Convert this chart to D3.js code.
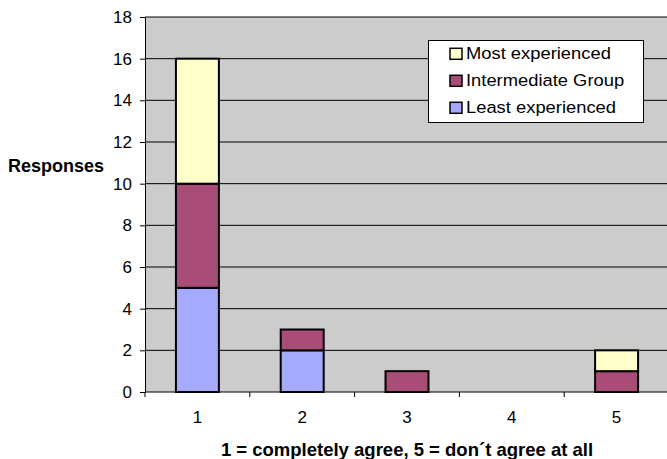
<!DOCTYPE html>
<html><head><meta charset="utf-8">
<script src="https://cdn.jsdelivr.net/npm/d3@7"></script>
<style>body{margin:0;background:#fff}svg{display:block;font-family:Arial,"Liberation Sans",sans-serif}</style>
</head><body><svg id="c" width="667" height="459"></svg>
<script>
const categories = ["1","2","3","4","5"];
const seriesNames = ["Least experienced","Intermediate Group","Most experienced"];
const leastExperienced = [5,2,0,0,0];
const intermediateGroup = [5,1,1,0,1];
const mostExperienced = [6,0,0,0,1];
const yTicks = [0,2,4,6,8,10,12,14,16,18];
const colors = ["#A6AAFF","#AA4C78","#FFFFCC"];

const svg = d3.select("#c");
const L = 145, R = 669, T = 17, B = 392;
const x = d3.scaleBand().domain(categories).range([L,R]).paddingInner(0.59).paddingOuter(0.295);
const y = d3.scaleLinear().domain([0,18]).range([B,T]);

svg.append("rect").attr("x",L).attr("y",T).attr("width",R-L).attr("height",B-T).attr("fill","#CCCCCC");
svg.append("g").selectAll("line").data(yTicks.filter(d=>d>0)).join("line")
  .attr("x1",L).attr("x2",R).attr("y1",d=>y(d)).attr("y2",d=>y(d)).attr("stroke","#000").attr("stroke-width",1);

const rows = categories.map((c,i)=>({cat:c, s0:leastExperienced[i], s1:intermediateGroup[i], s2:mostExperienced[i]}));
const stack = d3.stack().keys(["s0","s1","s2"])(rows);
stack.forEach((layer,k)=>{
  svg.append("g").selectAll("rect").data(layer.filter(d=>d[1]>d[0])).join("rect")
    .attr("x",d=>x(d.data.cat)).attr("width",x.bandwidth())
    .attr("y",d=>y(d[1])).attr("height",d=>y(d[0])-y(d[1]))
    .attr("fill",colors[k]).attr("stroke","#000").attr("stroke-width",2);
});

// axes
const ya = svg.append("g").attr("transform",`translate(${L},0)`)
  .call(d3.axisLeft(y).tickValues(yTicks).tickSize(5).tickSizeOuter(0).tickPadding(8));
ya.select(".domain").attr("stroke","#000");
ya.selectAll("text").attr("font-size",17).attr("fill","#000").attr("font-family","Arial, 'Liberation Sans', sans-serif");

const step = x.step();
const xa = svg.append("g").attr("transform",`translate(0,${B})`);
xa.append("line").attr("x1",L).attr("x2",R).attr("y1",0).attr("y2",0).attr("stroke","#000");
xa.selectAll("line.t").data(d3.range(categories.length+1)).join("line").attr("class","t")
  .attr("x1",i=>L+i*step).attr("x2",i=>L+i*step).attr("y1",0).attr("y2",5).attr("stroke","#000");
xa.selectAll("text").data(categories).join("text")
  .attr("x",d=>x(d)+x.bandwidth()/2).attr("y",31).attr("text-anchor","middle")
  .attr("font-size",17).text(d=>d);

svg.append("text").attr("x",(L+R)/2).attr("y",456).attr("text-anchor","middle")
  .attr("font-size",18.5).attr("font-weight","bold").text("1 = completely agree, 5 = don´t agree at all");
svg.append("text").attr("x",8).attr("y",171.5)
  .attr("font-size",18).attr("font-weight","bold").text("Responses");

// legend
const lg = svg.append("g");
lg.append("rect").attr("x",428.5).attr("y",40.5).attr("width",215).attr("height",82).attr("fill","#fff").attr("stroke","#000").attr("stroke-width",1);
const legendOrder = [2,1,0];
legendOrder.forEach((k,i)=>{
  const yy = 59.3 + i*27;
  lg.append("rect").attr("x",450).attr("y",yy-11).attr("width",12).attr("height",11)
    .attr("fill",colors[k]).attr("stroke","#000").attr("stroke-width",1.5);
  lg.append("text").attr("transform",`translate(466,${yy}) scale(1.08,1)`)
    .attr("font-size",17).text(seriesNames[k]);
});
</script></body></html>
